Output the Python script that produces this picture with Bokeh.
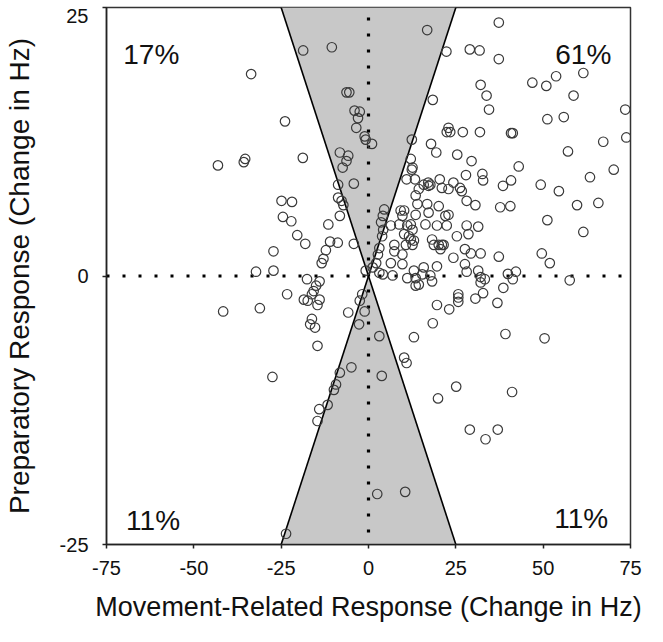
from bokeh.plotting import figure
from bokeh.models import Range1d, FixedTicker, ColumnDataSource
from bokeh.core.properties import value
from bokeh.embed import file_html
from bokeh.resources import INLINE

# ---------------- data ----------------
# Movement-related response (x) and preparatory response (y), change in Hz
ul_x = [-33.6, -23.9, -43.1, -35.3, -35.7, -18.7, -10.5, -6.3, -5.5, -4.0, -2.5, -3.0, -3.5, -1.1, -0.8,
        -18.8, -8.2, -5.8, -6.3, -7.4, -8.7, -4.2, -24.9, -24.5, -27.2, -32.2, -27.2, -21.9, -22.1, -8.7,
        -7.7, -7.2, -8.2, -11.5, -20.4, -18.1, -11.0, -8.8, -12.2, -12.9, -13.4, -4.2, -0.8]
ul_y = [18.8, 14.4, 10.3, 10.9, 10.6, 21.0, 21.3, 17.1, 17.1, 15.4, 15.3, 14.7, 13.8, 13.0, 12.7,
        11.0, 11.5, 11.2, 10.7, 10.1, 8.5, 8.6, 7.0, 5.5, 2.3, 0.4, 0.5, 6.9, 5.1, 7.3,
        7.0, 6.6, 5.6, 4.8, 3.8, 3.0, 3.2, 3.1, 2.4, 1.6, 1.2, 3.0, 0.5]

ll_x = [-31.1, -41.6, -27.5, -23.3, -17.6, -14.0, -15.0, -15.7, -16.2, -18.5, -17.4, -14.0, -14.6, -16.2, -16.7,
        -15.3, -14.6, -5.8, -1.8, -2.5, -1.1, -2.7, -4.9, -8.2, -9.3, -9.9, -11.7, -14.1, -14.6, -23.6]
ll_y = [-3.0, -3.3, -9.4, -1.7, -0.3, -0.5, -0.9, -1.4, -1.7, -2.2, -2.3, -2.2, -2.7, -4.0, -4.5,
        -4.8, -6.5, -3.4, -1.7, -2.3, -3.3, -4.5, -8.5, -9.0, -10.1, -10.6, -12.0, -12.4, -13.5, -24.0]

lr_x = [3.1, 3.8, 10.2, 10.9, 13.0, 18.4, 19.6, 23.1, 25.7, 25.7, 25.7, 30.6, 32.8, 36.9, 38.6,
        39.2, 50.4, 57.6, 41.3, 32.1, 33.3, 32.1, 11.1, 13.5, 14.4, 13.5, 18.2, 41.1, 29.0, 33.5,
        37.0, 25.1, 19.9, 2.5, 10.5]
lr_y = [-5.6, -9.3, -7.6, -8.1, -5.7, -4.4, -2.7, -3.1, -1.7, -2.0, -2.4, -2.1, -1.6, -2.5, -1.1,
        -5.4, -5.8, -0.4, -0.3, -0.1, -0.3, -0.6, -0.2, -0.2, -0.8, -0.9, -0.5, -10.8, -14.3, -15.2,
        -14.3, -10.3, -11.4, -20.3, -20.1]

ur_x = [16.8, 22.3, 29.0, 31.8, 37.3, 37.3, 18.4, 22.9, 22.4, 23.4, 27.0, 1.0, 12.4, 17.9, 19.4,
        25.4, 29.5, 12.1, 12.6, 12.4, 10.9, 13.3, 27.9, 20.4, 17.1, 17.7, 17.2, 24.3, 32.1, 33.8,
        34.5, 46.9, 50.9, 53.7, 61.5, 58.7, 51.2, 55.9, 73.5, 73.8, 67.2, 57.1, 41.3, 40.8, 31.9,
        43.0, 70.2, 63.4, 32.6, 32.8, 40.8, 38.5, 49.3, 54.5, 28.1, 30.6, 37.7, 40.6, 59.7, 65.8,
        51.2, 61.5, 28.1, 28.6, 31.4, 27.6, 29.3, 32.1, 37.3, 49.6, 51.9, 27.6, 28.1, 31.4, 39.9,
        42.2, 4.5, 4.1, 3.6, 4.2, 3.9, 3.1, 2.7, 2.2, 1.2, 3.1, 4.1, 6.4, 9.2, 10.2,
        9.7, 8.8, 11.1, 12.1, 12.6, 10.2, 11.6, 12.1, 13.0, 10.7, 12.6, 7.4, 7.4, 9.7, 6.4,
        9.7, 6.9, 13.0, 15.8, 15.4, 17.7, 19.6, 13.5, 14.4, 14.0, 15.8, 16.8, 20.1, 17.2, 13.5,
        16.3, 19.6, 18.2, 18.7, 22.0, 22.9, 22.4, 25.3, 21.0, 24.3, 20.1, 20.6, 21.5, 21.0, 22.9,
        26.2, 26.7]
ur_y = [22.9, 20.9, 21.1, 21.0, 23.6, 20.2, 16.4, 13.8, 13.4, 13.4, 13.4, 12.3, 12.7, 12.3, 11.5,
        11.3, 10.7, 10.9, 10.1, 9.9, 9.0, 9.0, 9.4, 9.0, 8.7, 8.5, 8.4, 8.7, 17.8, 16.8,
        15.5, 18.0, 17.7, 18.6, 18.9, 16.8, 14.6, 14.8, 15.5, 12.9, 12.5, 11.6, 13.3, 13.3, 13.4,
        10.2, 9.9, 9.2, 9.5, 8.9, 8.9, 8.4, 8.5, 7.9, 7.0, 6.6, 6.4, 6.5, 6.6, 6.8,
        5.2, 4.1, 4.7, 3.9, 4.6, 2.5, 2.1, 2.1, 1.8, 2.1, 1.2, 1.1, 0.4, 0.5, 0.2,
        0.4, 6.2, 5.6, 5.0, 4.3, 3.7, 2.6, 2.0, 1.2, 0.8, 0.3, 0.15, 4.7, 6.1, 6.1,
        5.6, 4.8, 4.7, 4.8, 4.3, 3.9, 3.7, 3.4, 3.3, 2.9, 2.9, 2.9, 2.3, 2.0, 1.2,
        1.1, 0.05, 0.5, 0.8, 0.15, 0.05, 0.9, 7.5, 8.1, 6.7, 8.5, 6.7, 6.5, 5.9, 5.7,
        4.8, 4.7, 3.4, 2.9, 5.6, 5.7, 4.7, 3.7, 2.9, 1.7, 2.9, 2.5, 2.9, 8.2, 8.1,
        8.2, 7.9]

movement = ul_x + ll_x + lr_x + ur_x
preparatory = ul_y + ll_y + lr_y + ur_y

# shaded cone: |x| < |y|
cone_top_x = [-25, 25, 0]
cone_top_y = [25, 25, 0]
cone_bot_x = [-25, 25, 0]
cone_bot_y = [-25, -25, 0]
diag_x = [-25, 25]
diag_y_down = [25, -25]
diag_y_up = [-25, 25]

# quadrant percentages
quad_labels = ["17%", "61%", "11%", "11%"]

x_ticks = [-75, -50, -25, 0, 25, 50, 75]
x_tick_labels = ["-75", "-50", "-25", "0", "25", "50", "75"]
y_ticks = [-25, 0, 25]
y_tick_labels = ["-25", "0", "25"]

FONT = "Liberation Sans"
INK = "#111111"

p = figure(width=647, height=626, output_backend="svg", toolbar_location=None,
           x_range=Range1d(-75, 75), y_range=Range1d(-25, 25),
           min_border_left=99, min_border_right=17, min_border_top=7, min_border_bottom=82)
p.background_fill_color = "white"
p.border_fill_color = "white"
p.xgrid.visible = False
p.ygrid.visible = False
p.outline_line_color = "#333333"
p.outline_line_width = 1.5

# cone
p.patch(cone_top_x, cone_top_y, fill_color="#c8c8c8", line_color=None)
p.patch(cone_bot_x, cone_bot_y, fill_color="#c8c8c8", line_color=None)
p.line(diag_x, diag_y_down, line_color="black", line_width=1.6)
p.line(diag_x, diag_y_up, line_color="black", line_width=1.6)

# dotted zero lines
p.line([-75, 75], [0, 0], line_color="black", line_width=3.2, line_dash="3 13", line_cap="butt")
p.line([0, 0], [25, -25], line_color="black", line_width=3.2, line_dash="3 13", line_cap="butt",
       line_dash_offset=-10)

# points
src = ColumnDataSource(dict(x=movement, y=preparatory))
p.scatter("x", "y", source=src, marker="circle", size=9.5, fill_color=None,
          line_color="#3a3a3a", line_width=1.2)

# quadrant labels
p.text(x=[-70.2], y=[20.6], text=[quad_labels[0]], text_font=value(FONT), text_font_size="28px",
       text_align="left", text_baseline="alphabetic", text_color=INK)
p.text(x=[69.5], y=[20.6], text=[quad_labels[1]], text_font=value(FONT), text_font_size="28px",
       text_align="right", text_baseline="alphabetic", text_color=INK)
p.text(x=[-69.4], y=[-22.8], text=[quad_labels[2]], text_font=value(FONT), text_font_size="28px",
       text_align="left", text_baseline="alphabetic", text_color=INK)
p.text(x=[68.6], y=[-22.6], text=[quad_labels[3]], text_font=value(FONT), text_font_size="28px",
       text_align="right", text_baseline="alphabetic", text_color=INK)

# axes
for ax in (p.xaxis[0], p.yaxis[0]):
    ax.axis_line_color = "#222222"
    ax.axis_line_width = 1.5
    ax.major_tick_line_color = "#222222"
    ax.major_tick_line_width = 1.5
    ax.major_tick_out = 4
    ax.major_tick_in = 0
    ax.minor_tick_line_color = None
    ax.major_label_text_font = FONT
    ax.major_label_text_font_size = "20px"
    ax.major_label_text_color = INK
    ax.axis_label_text_font = FONT
    ax.axis_label_text_font_style = "normal"
    ax.axis_label_text_color = INK

p.xaxis.axis_label_text_font_size = "27px"
p.yaxis.axis_label_text_font_size = "28px"

p.xaxis.ticker = FixedTicker(ticks=x_ticks)
p.xaxis.major_label_overrides = dict(zip(x_ticks, x_tick_labels))

# y axis: tick marks at -25/0/25 (drawn as minor ticks); the top label "25" sits
# slightly below the frame corner, as in the original, so its label slot is nudged down
top_label_pos = y_ticks[2] - 0.75
y_label_pos = [y_ticks[0], y_ticks[1], top_label_pos]
p.yaxis.ticker = FixedTicker(ticks=y_label_pos, minor_ticks=y_ticks)
p.yaxis.major_label_overrides = dict(zip(y_label_pos, y_tick_labels))
p.yaxis.major_tick_out = 0
p.yaxis.major_tick_line_color = None
p.yaxis.minor_tick_out = 4
p.yaxis.minor_tick_in = 0
p.yaxis.minor_tick_line_color = "#222222"
p.yaxis.minor_tick_line_width = 1.5

p.xaxis.axis_label = "Movement-Related Response (Change in Hz)"
p.yaxis.axis_label = "Preparatory Response (Change in Hz)"
p.xaxis.major_label_standoff = 12
p.yaxis.major_label_standoff = 14
p.xaxis.axis_label_standoff = 14
p.yaxis.axis_label_standoff = 22

open("out.html", "w").write(file_html(p, INLINE))
